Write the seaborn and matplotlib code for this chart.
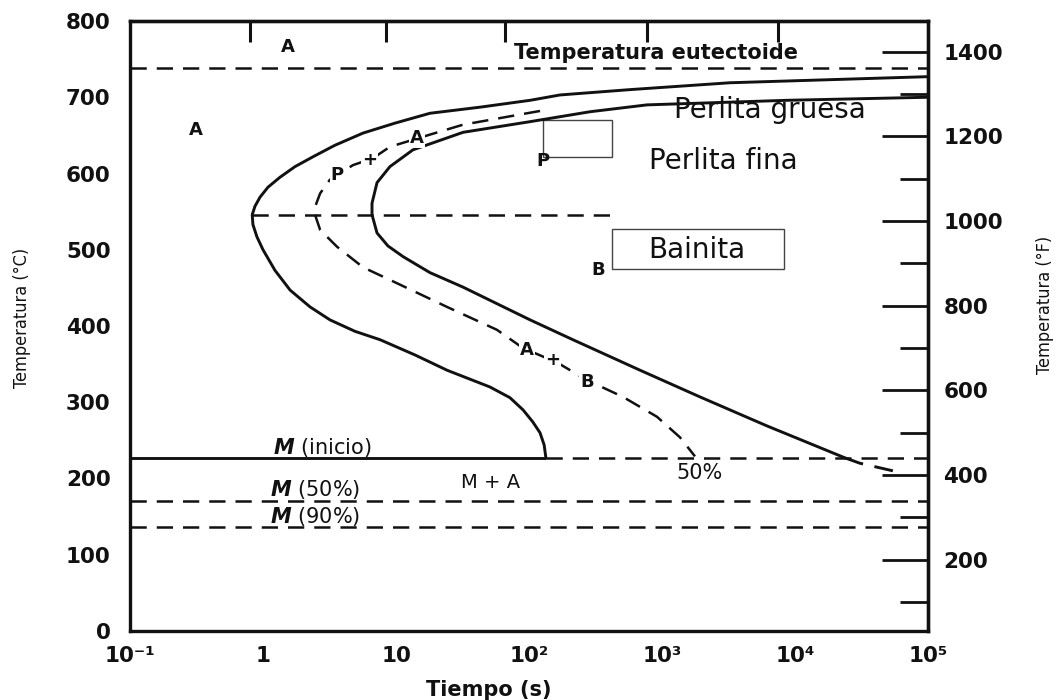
import matplotlib
matplotlib.use("Agg")
import matplotlib.pyplot as plt
from matplotlib.patches import Rectangle
from matplotlib.ticker import FixedLocator, NullLocator
import seaborn as sns

# Start of transformation (solid outer C-curve): time [s], temperature [°C]
start_t = [1.0e5, 3240, 574, 171, 102, 42.9, 18.0, 9.8, 5.65, 3.47,
           2.38, 1.74, 1.34, 1.09, 0.95, 0.87, 0.83, 0.84, 0.90, 1.0,
           1.23, 1.60, 2.26, 3.19, 4.92, 7.59, 13.9, 24.2, 50.9, 71.9,
           90.2, 107, 121, 130, 134]
start_T = [727, 719, 710, 703, 696, 687, 679, 666, 653, 637,
           622, 609, 595, 582, 569, 557, 546, 533, 517, 500,
           473, 447, 425, 408, 393, 382, 362, 342, 320, 306,
           290, 274, 260, 244, 227]

# End of transformation (solid inner C-curve)
finish_t = [1.0e5, 8710, 771, 288, 102, 31.9, 13.4, 9.0, 7.2, 6.6, 6.6,
            7.2, 8.7, 11.3, 18.0, 31.9, 102, 214, 684, 1930, 6150, 23800]
finish_T = [700, 696, 690, 681, 668, 654, 631, 609, 588, 561, 546,
            522, 505, 491, 470, 451, 408, 382, 342, 307, 269, 227]
# Continuation of the end curve below M(inicio)
finish_tail_t = [23800, 30800, 64900]
finish_tail_T = [227, 220, 207]

# 50 % transformation (dashed middle curve)
half_t = [121, 96.6, 31.9, 18.0, 9.0, 6.7, 4.75, 3.19, 2.69, 2.46, 2.46, 2.69,
          3.60, 5.65, 10.2, 24.2, 57.4, 90.2, 163, 273, 509, 916, 1365, 1770]
half_T = [682, 679, 664, 651, 635, 620, 611, 592, 574, 556, 546, 526,
          504, 477, 456, 425, 395, 371, 352, 329, 307, 281, 254, 229]

# Characteristic temperatures [°C]
eutectoid_T = 738
split_T = 545          # pearlite / bainite boundary
split_span = [0.83, 459]
ms_T = 227             # M (inicio)
ms_solid_end = 134
m50_T = 170
m90_T = 136

x_ticks = [0.1, 1, 10, 100, 1e3, 1e4, 1e5]
x_ticklabels = ["10\u207b\u00b9", "1", "10", "10\u00b2", "10\u00b3", "10\u2074", "10\u2075"]
top_ticks = [0.8, 8.4, 66, 770, 7400]
c_ticks = list(range(0, 801, 100))
f_major = list(range(200, 1401, 200))
f_minor = list(range(100, 1301, 200))

sns.set_theme(style="white")
plt.rcParams["font.family"] = ["DejaVu Sans"]

fig = plt.figure(figsize=(10.59, 7.0), dpi=100)
fig.patch.set_facecolor("white")
ax = fig.add_axes([130 / 1059, 1 - 631 / 700, (928 - 130) / 1059, (631 - 21) / 700])
ax.set_xscale("log")
ax.set_xlim(0.1, 1e5)
ax.set_ylim(0, 800)

ink = "#111111"
dash = (0, (6.5, 4))
lw_curve = 2.1
lw_dash = 1.8

sns.lineplot(x=start_t, y=start_T, sort=False, estimator=None, color=ink, lw=lw_curve, ax=ax)
sns.lineplot(x=finish_t, y=finish_T, sort=False, estimator=None, color=ink, lw=lw_curve, ax=ax)
sns.lineplot(x=finish_tail_t, y=finish_tail_T, sort=False, estimator=None, color=ink,
             lw=lw_curve, linestyle=dash, ax=ax)
sns.lineplot(x=half_t, y=half_T, sort=False, estimator=None, color=ink,
             lw=lw_dash, linestyle=dash, ax=ax)

ax.hlines(eutectoid_T, 0.1, 1e5, colors=ink, lw=lw_dash, linestyles=[dash])
ax.hlines(split_T, split_span[0], split_span[1], colors=ink, lw=lw_dash, linestyles=[dash])
ax.hlines(ms_T, 0.1, ms_solid_end, colors=ink, lw=lw_curve)
ax.hlines(ms_T, ms_solid_end, 1e5, colors=ink, lw=lw_dash, linestyles=[dash])
ax.hlines([m50_T, m90_T], 0.1, 1e5, colors=ink, lw=lw_dash, linestyles=[dash])

# Axes frame and ticks
for sp in ax.spines.values():
    sp.set_linewidth(2.4)
    sp.set_color(ink)
ax.set_xticks(x_ticks, labels=x_ticklabels, fontweight="bold", fontsize=15.5)
ax.xaxis.set_minor_locator(NullLocator())
ax.set_yticks(c_ticks, labels=[str(v) for v in c_ticks], fontweight="bold", fontsize=15.5)
ax.tick_params(axis="x", direction="in", length=16, width=2.2, pad=11, colors=ink)
ax.tick_params(axis="y", direction="in", length=24, width=2.2, pad=14, colors=ink)

top = ax.secondary_xaxis("top")
top.set_xticks(top_ticks, labels=[""] * len(top_ticks))
top.xaxis.set_minor_locator(NullLocator())
top.tick_params(direction="in", length=15, width=2.2, colors=ink)
top.spines["top"].set_linewidth(2.4)

right = ax.secondary_yaxis("right", functions=(lambda c: c * 9 / 5 + 32,
                                                lambda f: (f - 32) * 5 / 9))
right.set_yticks(f_major, labels=[str(v) for v in f_major], fontweight="bold", fontsize=15.5)
right.yaxis.set_minor_locator(FixedLocator(f_minor))
right.tick_params(which="major", direction="in", length=33, width=2.0, pad=11, colors=ink)
right.tick_params(which="minor", direction="in", length=20, width=2.0, colors=ink)
right.spines["right"].set_linewidth(2.4)

# Axis titles (condensed face)
fig.text(22 / 1059, 1 - 318 / 700, "Temperatura (°C)", rotation=90, ha="center", va="center",
         fontsize=13, fontstretch="condensed", color=ink)
fig.text(1045 / 1059, 1 - 305 / 700, "Temperatura (°F)", rotation=90, ha="center", va="center",
         fontsize=13, fontstretch="condensed", color=ink)
fig.text(489 / 1059, 1 - 690 / 700, "Tiempo (s)", ha="center", va="center",
         fontsize=15, fontweight="bold", color=ink)

# Region labels
lab = dict(fontsize=13, fontweight="bold", color=ink, ha="center", va="center")
ax.text(1.54, 766, "A", **lab)
ax.text(0.31, 657, "A", **lab)
ax.text(900, 758, "Temperatura eutectoide", fontsize=15, fontweight="bold", color=ink,
        ha="center", va="center")
ax.text(127, 617, "P", **lab)
ax.text(330, 473, "B", **lab)
on_curve = dict(lab, bbox=dict(facecolor="white", edgecolor="none", pad=0.5))
ax.text(3.6, 598, "P", **on_curve)
ax.text(6.3, 618, "+", **on_curve)
ax.text(14.4, 646, "A", **on_curve)
ax.text(96.6, 368, "A", **on_curve)
ax.text(150, 355, "+", **on_curve)
ax.text(273, 327, "B", **on_curve)
ax.text(1930, 207, "50%", fontsize=15, color=ink, ha="center", va="center")
ax.text(51, 195, "M + A", fontsize=14, color=ink, ha="center", va="center")
ax.text(2.78, 241, r"$\mathbfit{M}$ (inicio)", fontsize=15, color=ink, ha="center", va="center")
ax.text(2.46, 186, r"$\mathbfit{M}$ (50%)", fontsize=15, color=ink, ha="center", va="center")
ax.text(2.46, 150, r"$\mathbfit{M}$ (90%)", fontsize=15, color=ink, ha="center", va="center")

ax.text(6490, 683, "Perlita gruesa", fontsize=20, color=ink, ha="center", va="center")
ax.text(2900, 617, "Perlita fina", fontsize=20, color=ink, ha="center", va="center")

# Boxed labels
ax.add_patch(Rectangle((127, 621.6), 421 - 127, 670 - 621.6, fill=False, edgecolor="#444444", lw=1.0))
ax.add_patch(Rectangle((421, 474.8), 8260 - 421, 527.2 - 474.8, fill=False, edgecolor="#444444", lw=1.0))
ax.text(1830, 500, "Bainita", fontsize=20, color=ink, ha="center", va="center")

fig.savefig("out.png", dpi=100, facecolor="white")
